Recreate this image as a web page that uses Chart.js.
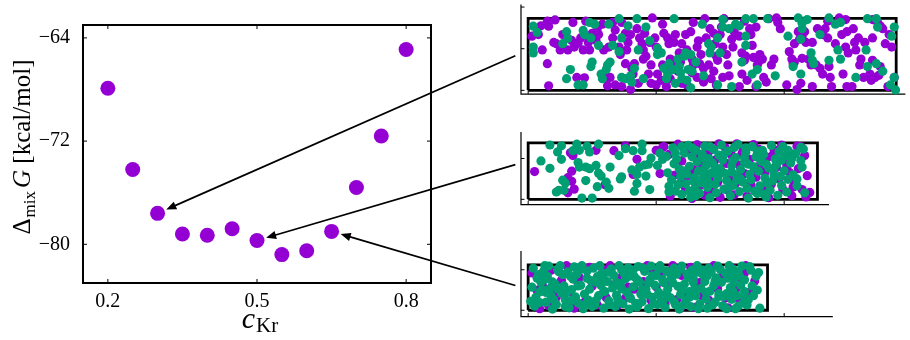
<!DOCTYPE html>
<html><head><meta charset="utf-8">
<script src="https://cdn.jsdelivr.net/npm/chart.js@4/dist/chart.umd.min.js"></script>
<style>
html,body{margin:0;padding:0;background:#fff;}
#wrap{position:relative;width:910px;height:340px;overflow:hidden;background:#fff;}
canvas{position:absolute;}
</style></head><body>
<div id="wrap">
<canvas id="main" width="910" height="340" style="left:0;top:0"></canvas>
<canvas id="p1" width="405" height="105" style="left:505px;top:0px"></canvas>
<canvas id="p2" width="405" height="100" style="left:505px;top:120px"></canvas>
<canvas id="p3" width="405" height="100" style="left:505px;top:240px"></canvas>
</div>
<script>
// ---------- main chart data ----------
const cKr = [0.2,0.25,0.3,0.35,0.4,0.45,0.5,0.55,0.6,0.65,0.7,0.75,0.8];
const dG  = [-67.9,-74.2,-77.6,-79.2,-79.3,-78.8,-79.7,-80.8,-80.5,-79.0,-75.6,-71.6,-64.9];
const xTickVals = [0.2,0.5,0.8];
const yTickVals = [-64,-72,-80];

// ---------- snapshot panels (box size and particle positions) ----------
const boxL = [28.75,22.6,18.7];
const boxH = [17.3,13.8,11.2];
const panelTicksX = [0,10,20,30];
const panelTicksY = [[0,10,20],[0,10],[0,10]];
const arrowTarget = [2,6,9];            // which cKr point each panel belongs to
const arrowAnchor = [[-1.0,8.3],[-1.0,8.5],[-1.0,6.1]];

const p1Purple = [0.3,13.0,1.0,15.5,1.5,16.6,1.6,15.4,2.1,16.9,0.8,13.4,1.1,9.7,1.5,6.4,1.6,1.1,2.0,11.5,
2.5,9.7,2.7,13.4,3.4,12.0,3.5,16.3,3.6,10.4,3.9,11.3,3.8,3.1,3.1,9.7,2.2,11.2,
4.4,3.0,4.5,16.6,4.7,11.5,5.0,13.7,5.3,12.0,5.5,13.4,5.8,15.9,5.9,9.7,6.1,3.1,6.2,1.1,4.1,12.6,4.8,9.7,5.4,14.8,4.3,9.7,
6.6,12.6,6.8,14.5,6.3,10.4,7.1,10.4,7.2,8.6,7.6,13.7,7.7,9.7,7.8,11.5,6.4,3.1,6.8,1.3,7.3,0.9,8.0,0.2,7.6,6.4,8.1,5.3,8.0,13.4,6.6,16.3,7.3,16.3,
8.5,14.8,8.7,12.6,8.9,11.2,9.0,9.7,9.1,13.7,9.2,8.2,9.5,11.5,9.6,6.1,9.7,17.4,9.9,12.6,10.0,10.4,8.3,6.4,8.6,1.7,9.0,7.5,10.1,3.9,10.0,1.3,9.6,1.7,9.4,3.9,8.2,3.9,
10.5,15.9,10.6,13.7,10.9,12.6,11.0,11.2,11.1,7.5,11.3,6.1,11.4,11.5,11.5,13.4,11.7,4.6,11.8,9.0,11.9,6.8,10.4,2.4,10.8,0.9,11.1,2.8,12.0,1.7,10.5,6.1,10.9,4.6,12.0,11.2,
12.3,13.4,12.7,14.1,12.8,7.5,12.9,6.1,13.2,10.4,13.3,11.9,13.4,6.4,13.5,8.6,13.7,5.3,13.8,17.2,13.9,12.6,14.1,6.1,12.4,1.3,12.8,4.2,13.2,3.1,13.7,2.0,12.9,16.3,14.2,14.8,12.4,9.7,
14.5,13.7,14.6,11.2,14.7,8.2,14.8,7.2,15.0,13.4,15.1,15.2,15.2,10.4,15.3,17.2,15.5,8.6,15.6,6.1,15.7,3.5,15.9,12.3,16.0,10.4,16.1,14.1,14.5,4.6,14.7,1.3,15.2,3.1,14.3,2.8,
16.5,13.0,16.7,9.0,16.9,7.2,17.0,8.2,17.3,14.8,17.4,13.4,17.5,10.8,17.6,7.9,17.8,15.2,17.9,6.1,18.0,6.8,18.1,8.6,18.3,7.5,16.7,3.9,17.1,2.4,16.5,0.9,17.8,0.9,18.4,3.1,16.9,16.6,
18.8,17.2,19.2,7.5,19.5,16.3,19.7,14.8,19.4,17.4,20.2,1.3,19.0,6.1,18.6,2.0,
20.4,9.3,20.6,7.5,20.7,6.4,20.8,11.2,21.1,14.1,21.2,12.3,21.6,14.1,21.7,11.5,21.9,7.5,22.1,6.1,22.2,11.5,20.8,6.8,21.3,1.7,21.0,0.2,22.2,0.9,21.4,7.7,21.4,12.9,
22.6,14.8,23.0,13.4,23.2,14.8,23.4,12.6,22.5,6.1,22.8,5.3,23.5,5.7,23.6,3.1,23.7,0.9,24.0,11.2,24.3,17.4,23.4,16.6,23.0,3.9,
24.5,13.4,24.8,10.4,24.9,14.1,25.0,9.0,25.4,14.8,25.5,11.5,25.6,9.7,25.8,12.6,25.9,6.1,24.6,3.9,24.9,0.9,25.3,0.9,26.0,7.5,26.2,3.1,26.3,11.5,24.8,17.0,
26.7,3.9,26.8,2.4,26.9,17.0,27.3,16.3,27.5,15.5,27.7,14.8,27.1,3.1,27.4,3.6,27.9,11.2,28.2,13.4,28.4,10.4,27.5,5.7,28.1,0.9,26.9,12.6,28.6,3.1,26.9,7.2];

const p1Green = [0.4,15.4,0.7,13.9,0.4,10.4,0.4,9.0,
3.0,14.1,2.7,11.2,3.1,12.5,3.0,2.8,3.3,5.0,3.9,1.3,
4.3,1.3,4.4,13.4,4.3,14.4,4.8,16.3,5.2,15.9,4.9,12.6,5.0,6.8,4.9,5.7,5.7,3.9,5.8,2.8,5.5,10.8,
6.2,6.1,6.1,5.0,6.4,6.8,6.6,10.8,6.3,15.9,7.1,17.2,7.3,12.6,7.3,3.1,7.6,2.8,7.8,15.5,7.1,9.3,8.0,3.5,
8.5,17.2,8.6,9.7,9.2,15.2,9.5,11.9,10.1,10.1,10.1,8.6,9.0,2.8,8.1,2.0,8.3,5.3,
10.4,9.0,10.6,5.3,10.9,3.9,11.0,6.4,11.4,17.2,11.7,7.5,11.8,5.7,11.9,4.2,11.5,1.7,12.2,8.2,12.0,2.8,10.8,2.8,11.3,5.0,
12.3,9.0,12.7,8.6,12.5,5.0,12.8,4.6,12.4,2.4,12.7,0.6,13.6,15.9,13.7,3.5,14.1,11.2,14.2,9.0,13.1,6.8,
14.3,10.4,14.8,12.6,15.0,9.0,14.8,1.3,15.2,17.0,15.7,14.8,15.9,0.9,16.2,15.9,15.2,15.2,
17.0,17.2,17.6,17.2,16.5,15.5,17.0,13.0,17.0,10.8,17.9,5.0,17.5,3.9,17.9,1.3,16.7,6.8,
18.7,17.2,19.3,3.5,20.3,13.0,
21.1,17.4,21.8,17.0,21.4,16.1,21.4,14.8,21.3,12.3,20.7,5.7,21.3,3.9,22.1,9.0,22.2,7.2,
22.8,13.4,23.5,17.4,24.0,15.9,24.4,16.3,24.2,9.7,24.4,7.5,23.5,7.2,22.3,6.4,
26.4,9.7,26.5,17.2,25.6,3.1,
27.2,17.2,27.3,15.2,28.6,15.2,28.4,13.0,27.2,6.4,26.5,5.7,27.7,4.6,28.6,3.1,28.3,1.3,28.7,0.1];

const p2Purple = [0.5,6.8,3.3,11.4,3.5,10.7,3.4,6.9,3.1,5.3,3.4,4.4,3.6,2.5,3.1,1.6,6.7,11.9,7.6,13.1,8.5,9.8,8.2,6.1,10.3,6.3,10.5,12.7,10.0,12.0,5.3,12.0,6.0,3.6,
10.6,12.9,11.0,11.0,11.1,0.8,11.4,5.9,11.7,13.5,12.0,9.4,12.3,2.6,12.1,4.9,12.6,11.9,12.9,7.3,12.8,0.2,13.2,13.4,13.4,3.3,13.5,8.6,13.9,6.1,13.8,1.0,
14.1,11.6,14.4,2.0,14.6,9.6,14.9,13.6,14.8,4.1,15.1,6.9,15.0,0.5,15.4,12.6,15.5,8.8,15.7,5.3,15.9,10.8,16.1,1.1,16.3,13.6,16.2,3.9,16.5,8.4,16.7,11.2,
16.9,6.3,17.1,0.8,17.3,9.8,17.4,3.6,17.6,13.4,17.8,5.4,18.0,12.3,18.1,8.3,18.3,2.8,18.5,6.6,18.7,10.3,18.8,0.4,19.0,3.7,19.2,12.2,19.4,7.8,19.6,5.0,
19.8,13.3,19.9,2.4,20.1,9.3,20.4,6.6,20.5,11.2,20.6,0.9,20.8,4.1,21.0,13.0,21.1,7.5,21.4,2.4,21.6,10.7,21.8,5.8,21.7,0.6,22.0,1.7,21.3,12.9,20.7,3.0,
12.5,5.8,13.0,10.5,14.3,4.9,15.6,2.2,16.8,12.5,17.9,7.2,19.1,10.8,20.2,8.0];

const p2Green = [1.7,13.3,2.6,13.1,3.8,13.5,4.6,13.0,5.5,13.5,2.3,11.6,1.0,9.4,2.6,9.8,1.7,7.6,3.5,11.9,4.0,12.0,4.8,11.6,3.9,9.0,4.0,7.9,4.5,7.9,4.8,7.5,5.3,8.3,5.5,6.4,5.7,5.7,
2.7,4.7,2.9,4.0,2.4,2.2,2.8,2.2,2.2,1.8,4.2,0.3,5.0,0.3,4.5,4.6,5.4,3.1,6.1,4.2,6.3,2.7,6.4,7.9,7.1,10.7,7.6,12.4,8.2,11.9,7.3,5.5,7.2,5.0,8.1,7.2,8.5,6.1,8.3,2.0,8.5,3.9,
8.9,11.9,8.9,13.5,8.7,7.9,9.1,8.4,9.4,8.6,9.2,5.7,9.5,2.4,9.6,10.1,10.1,8.3,10.3,11.3,10.5,9.8,10.8,10.5,
10.9,6.5,11.2,4.8,11.0,3.2,11.5,2.0,11.3,12.6,11.6,9.9,11.8,7.4,11.4,8.7,11.9,5.6,12.0,1.2,12.2,11.3,12.3,3.8,12.5,13.2,12.6,8.1,12.4,6.2,12.8,10.4,12.9,4.5,12.7,0.5,
13.0,2.6,13.1,12.0,13.3,6.9,13.2,9.2,13.5,4.0,13.6,11.1,13.4,1.5,13.8,13.0,13.9,8.3,13.7,5.4,14.0,2.9,14.1,10.0,14.3,6.4,14.2,0.4,14.5,12.2,14.6,3.7,14.4,8.9,14.8,5.2,
14.9,10.8,14.7,1.6,15.0,7.5,15.1,13.3,15.3,2.5,15.2,9.6,15.5,4.6,15.6,11.8,15.4,6.3,15.8,0.9,15.9,8.2,16.0,3.4,16.1,12.7,16.3,5.8,16.2,10.2,16.5,1.9,16.6,7.3,16.4,13.4,
16.8,4.2,16.9,9.0,17.0,11.5,17.1,2.7,17.3,6.1,17.2,0.3,17.5,12.9,17.6,8.0,17.4,4.8,17.8,10.4,17.9,1.4,18.0,6.9,18.1,3.3,18.3,12.0,18.2,9.3,18.5,5.2,18.6,0.6,18.4,11.0,
18.8,7.7,18.9,2.2,19.0,13.2,19.1,4.5,19.3,9.9,19.2,6.0,19.5,1.0,19.6,11.7,19.4,8.5,19.8,3.4,19.9,12.9,20.0,7.0,20.1,10.6,20.3,4.9,20.2,1.8,20.5,8.9,20.7,6.0,20.9,11.2,
21.0,3.3,21.3,9.5,21.5,12.3,21.6,1.6,21.3,12.7,21.4,7.9,
12.0,12.9,12.1,7.0,13.0,5.3,13.6,10.2,14.0,4.6,14.6,7.8,15.3,11.0,15.7,3.0,16.0,9.5,16.6,5.0,17.0,12.6,17.7,2.0,18.0,10.9,18.7,4.0,19.2,7.4,19.7,5.6,20.3,12.0,11.7,3.6,
12.6,2.0,14.2,12.9,15.9,6.7,17.2,8.6,18.4,1.3,19.8,9.6,11.0,1.8,11.5,11.3,12.8,12.6,13.1,0.9,13.7,7.2,14.9,6.1,16.3,4.7,16.9,10.2,17.9,11.8,18.6,8.6,20.6,10.0,21.0,5.0];

const p3Purple = [0.3,9.2,0.7,4.9,0.9,0.4,1.1,6.2,1.6,1.1,1.8,9.9,2.2,3.2,2.6,7.4,3.0,11.0,3.3,4.6,3.6,0.5,4.0,8.1,4.4,2.0,4.8,10.6,5.0,5.9,5.4,1.3,5.7,8.9,
6.1,3.1,6.4,11.0,6.7,6.3,7.0,1.2,7.3,8.2,7.6,3.0,8.0,10.1,8.3,5.2,8.6,1.4,9.0,7.1,9.3,11.0,9.6,2.5,10.0,5.8,10.4,9.1,10.7,1.6,11.0,6.5,11.3,11.0,11.6,2.6,
12.0,8.6,12.4,4.1,12.7,10.6,13.0,0.7,13.4,6.8,13.8,9.1,14.1,2.5,14.5,11.0,14.8,5.3,15.2,8.6,15.6,0.6,15.9,10.5,16.2,5.1,16.5,2.6,16.9,9.2,17.3,4.4,17.0,11.0,17.7,7.2,
1.9,4.9,3.9,6.7,5.9,10.0,7.8,5.7,9.8,9.6,11.9,0.5,13.6,3.5,15.4,3.0,16.4,7.0];

const p3Green = [0.3,5.7,0.6,3.2,0.8,8.8,0.5,1.0,1.0,6.9,0.4,10.4,0.9,4.5,
1.2,9.6,1.4,2.0,1.3,7.6,1.7,5.4,1.6,10.9,1.9,0.3,1.8,3.6,1.5,8.4,
2.1,6.5,2.3,10.1,2.2,1.4,2.6,4.2,2.7,8.8,2.5,11.0,2.9,2.6,2.8,6.0,
3.1,9.5,3.2,0.6,3.4,5.1,3.5,7.7,3.7,3.3,3.6,10.7,3.9,1.8,3.8,8.9,
4.1,6.2,4.2,11.0,4.4,4.0,4.3,0.4,4.6,9.7,4.7,2.5,4.9,7.3,4.8,5.2,
5.1,10.4,5.2,1.3,5.4,8.3,5.5,3.6,5.7,6.1,5.6,11.0,5.9,0.5,5.8,9.2,
6.0,4.6,6.2,7.1,6.3,2.3,6.5,10.2,6.6,5.5,6.8,0.9,6.7,8.6,6.9,3.7,
7.1,11.0,7.2,6.6,7.4,1.6,7.5,9.1,7.7,4.5,7.6,7.8,7.9,0.3,7.8,10.5,
8.0,2.9,8.2,5.8,8.3,8.3,8.5,0.8,8.6,10.8,8.8,4.0,8.7,6.9,8.9,2.1,
9.1,9.6,9.2,5.1,9.4,0.4,9.5,7.5,9.7,3.2,9.6,10.9,9.9,6.2,9.8,1.6,
10.0,8.6,10.2,4.4,10.3,11.0,10.5,2.3,10.6,6.8,10.8,9.7,10.7,0.7,10.9,5.2,
11.1,3.1,11.2,7.9,11.4,10.4,11.5,1.4,11.7,5.9,11.6,8.9,11.9,3.9,11.8,0.3,
12.0,10.9,12.2,6.4,12.3,2.4,12.5,8.1,12.6,4.6,12.8,9.9,12.7,0.9,12.9,6.9,
13.1,3.6,13.2,11.0,13.4,1.6,13.5,5.4,13.7,8.6,13.6,10.0,13.9,2.8,13.8,7.1,
14.0,0.5,14.2,4.7,14.3,9.5,14.5,6.1,14.6,2.0,14.8,10.9,14.7,8.0,14.9,3.4,
15.1,6.9,15.2,1.1,15.4,9.2,15.5,4.1,15.7,11.0,15.6,7.9,15.9,2.7,15.8,5.6,
16.0,10.1,16.2,0.4,16.3,3.6,16.5,8.5,16.6,6.2,16.8,1.8,16.7,10.9,16.9,4.6,
17.1,1.3,17.2,2.6,17.4,9.9,17.6,3.6,17.5,6.0,17.3,10.8,17.8,8.4,18.0,9.3,17.9,5.0,18.1,0.5,
0.2,2.2,0.7,7.9,0.9,1.9,1.1,5.1,1.3,11.0,1.9,7.0,1.4,4.4,2.0,2.6,2.4,9.5,2.3,5.3,2.9,0.9,3.0,4.4,3.3,8.4,3.4,2.5,3.9,6.0,4.0,9.9,4.5,1.6,4.6,7.9,
5.0,0.9,5.3,6.9,5.3,2.4,5.9,4.6,5.9,7.7,6.3,9.4,6.4,1.4,6.9,6.8,7.0,2.8,7.3,10.0,7.3,5.3,7.9,3.4,7.9,8.4,8.2,9.9,8.4,1.7,8.5,7.6,8.9,5.0,9.0,10.4,
9.3,3.9,9.4,6.8,9.7,8.5,10.1,1.4,10.2,10.2,10.3,3.4,10.5,7.6,10.8,4.0,11.0,9.3,11.3,6.8,11.4,2.2,11.9,10.2,12.0,4.9,12.2,1.4,12.4,9.0,12.6,3.2,12.9,7.8,
13.0,5.3,13.3,9.4,13.3,0.4,13.9,4.4,14.0,8.5,14.1,10.4,14.4,1.3,14.6,7.2,14.9,4.1,15.0,10.1,15.3,3.4,15.5,0.4,15.9,8.6,16.0,4.7,16.1,6.9,16.4,1.0,16.4,9.5,16.9,3.4,16.9,7.5];

const panelPurple = [p1Purple,p2Purple,p3Purple];
const panelGreen  = [p1Green,p2Green,p3Green];

// ---------- styles / layout ----------
const PURPLE = '#9400d3', GREEN = '#009e73';
const SERIF = '"Liberation Serif", "Times New Roman", serif';
const PARTICLE_R = 4.6;
const panelLayout = [
  {id:'p1', xmin:-1.45, xmax:29.47, ymin:-2.41, ymax:20.59, spineX:-0.56, spineY:-0.88, spineTop:null, spineRight:null},
  {id:'p2', xmin:-1.45, xmax:29.47, ymin:-3.93, ymax:18.29, spineX:-0.56, spineY:-1.27, spineTop:16.5, spineRight:23.5},
  {id:'p3', xmin:-1.45, xmax:29.47, ymin:-6.21, ymax:16.21, spineX:-0.56, spineY:-1.57, spineTop:14.6, spineRight:23.8}
];

function toPts(a){const r=[];for(let i=0;i<a.length;i+=2)r.push({x:a[i],y:a[i+1]});return r;}

const panels = panelLayout.map((L,k)=>{
  const boxPts = [{x:0,y:0},{x:boxL[k],y:0},{x:boxL[k],y:boxH[k]},{x:0,y:boxH[k]},{x:0,y:0}];
  const axesPlugin = {
    id:'panelAxes'+k,
    beforeDatasetsDraw(chart){
      const {ctx, chartArea:a, scales:{x,y}} = chart;
      const sx = x.getPixelForValue(L.spineX), sy = y.getPixelForValue(L.spineY);
      const top = L.spineTop==null ? a.top : y.getPixelForValue(L.spineTop);
      const right = L.spineRight==null ? a.right : x.getPixelForValue(L.spineRight);
      ctx.save();
      ctx.strokeStyle='#000'; ctx.lineWidth=1.2;
      ctx.beginPath(); ctx.moveTo(sx, top); ctx.lineTo(sx, sy); ctx.lineTo(right, sy); ctx.stroke();
      ctx.lineWidth=1;
      panelTicksX.forEach(v=>{const px=x.getPixelForValue(v); if(px<=right){ctx.beginPath();ctx.moveTo(px,sy);ctx.lineTo(px,sy-3.5);ctx.stroke();}});
      panelTicksY[k].forEach(v=>{const py=y.getPixelForValue(v); if(py>=top-0.5){ctx.beginPath();ctx.moveTo(sx,py);ctx.lineTo(sx+3.5,py);ctx.stroke();}});
      ctx.restore();
    }
  };
  return new Chart(document.getElementById(L.id), {
    type:'scatter',
    data:{datasets:[
      {data:boxPts, showLine:true, borderColor:'#000', borderWidth:2.8, pointRadius:0, fill:false, tension:0, order:3},
      {data:toPts(panelPurple[k]), backgroundColor:PURPLE, borderWidth:0, pointRadius:PARTICLE_R, pointHoverRadius:PARTICLE_R, order:2},
      {data:toPts(panelGreen[k]), backgroundColor:GREEN, borderWidth:0, pointRadius:PARTICLE_R, pointHoverRadius:PARTICLE_R, order:1}
    ]},
    options:{
      responsive:false, animation:false, events:[], devicePixelRatio:1,
      layout:{padding:0},
      plugins:{legend:{display:false}, tooltip:{enabled:false}},
      scales:{
        x:{type:'linear', display:false, min:L.xmin, max:L.xmax},
        y:{type:'linear', display:false, min:L.ymin, max:L.ymax}
      }
    },
    plugins:[axesPlugin]
  });
});

// ---------- main chart ----------
const mainPlugin = {
  id:'mainFrame',
  afterDraw(chart){
    const {ctx, chartArea:a, scales:{x,y}} = chart;
    ctx.save();
    ctx.strokeStyle='#000'; ctx.lineWidth=1;
    xTickVals.forEach(v=>{const px=x.getPixelForValue(v);
      ctx.beginPath();ctx.moveTo(px,a.bottom);ctx.lineTo(px,a.bottom-4);ctx.stroke();
      ctx.beginPath();ctx.moveTo(px,a.top);ctx.lineTo(px,a.top+4);ctx.stroke();});
    yTickVals.forEach(v=>{const py=y.getPixelForValue(v);
      ctx.beginPath();ctx.moveTo(a.left,py);ctx.lineTo(a.left+4,py);ctx.stroke();
      ctx.beginPath();ctx.moveTo(a.right,py);ctx.lineTo(a.right-4,py);ctx.stroke();});
    ctx.lineWidth=2;
    ctx.strokeRect(a.left,a.top,a.right-a.left,a.bottom-a.top);

    // x title  c_Kr
    ctx.fillStyle='#000'; ctx.textBaseline='alphabetic'; ctx.textAlign='left';
    const f1='italic 30px '+SERIF, f2='21px '+SERIF;
    ctx.font=f1; const wc=ctx.measureText('c').width;
    ctx.font=f2; const wk=ctx.measureText('Kr').width;
    const cx=(a.left+a.right)/2+3, base=a.bottom+45;
    const x0=cx-(wc+wk+1)/2;
    ctx.font=f1; ctx.fillText('c',x0,base);
    ctx.font=f2; ctx.fillText('Kr',x0+wc+1,base+4);

    // y title  Δ_mix G [kcal/mol]
    ctx.save();
    ctx.translate(a.left-53,(a.top+a.bottom)/2-7);
    ctx.rotate(-Math.PI/2);
    const parts=[['\u0394','25px '+SERIF,0,0],['mix','17px '+SERIF,5,1],['G','italic 25px '+SERIF,0,3],[' [kcal/mol]','25px '+SERIF,0,0]];
    let tot=0; parts.forEach(p=>{ctx.font=p[1]; p.w=ctx.measureText(p[0]).width; tot+=p.w+p[3];});
    let xx=-tot/2;
    parts.forEach(p=>{xx+=p[3]; ctx.font=p[1]; ctx.fillText(p[0],xx,p[2]); xx+=p.w;});
    ctx.restore();

    // arrows from snapshots to points
    ctx.fillStyle='#000'; ctx.strokeStyle='#000'; ctx.lineWidth=1.7;
    arrowTarget.forEach((ti,k)=>{
      const pc=panels[k], cv=pc.canvas;
      const sx=cv.offsetLeft+pc.scales.x.getPixelForValue(arrowAnchor[k][0]);
      const sy=cv.offsetTop+pc.scales.y.getPixelForValue(arrowAnchor[k][1]);
      const px=x.getPixelForValue(cKr[ti]), py=y.getPixelForValue(dG[ti]);
      const dx=sx-px, dy=sy-py, d=Math.hypot(dx,dy), ux=dx/d, uy=dy/d;
      const gap=9.5, hl=10, hw=4.2;
      const tx=px+ux*gap, ty=py+uy*gap, bx=tx+ux*hl, by=ty+uy*hl;
      ctx.beginPath(); ctx.moveTo(sx,sy); ctx.lineTo(bx-ux*1,by-uy*1); ctx.stroke();
      ctx.beginPath(); ctx.moveTo(tx,ty); ctx.lineTo(bx-uy*hw,by+ux*hw); ctx.lineTo(bx+uy*hw,by-ux*hw); ctx.closePath(); ctx.fill();
    });
    ctx.restore();
  }
};

new Chart(document.getElementById('main'), {
  type:'scatter',
  data:{datasets:[{data:cKr.map((c,i)=>({x:c,y:dG[i]})), backgroundColor:PURPLE, borderWidth:0, pointRadius:7.5, pointHoverRadius:7.5}]},
  options:{
    responsive:false, animation:false, events:[], devicePixelRatio:1,
    layout:{padding:{left:0, top:23, right:479, bottom:0}},
    plugins:{legend:{display:false}, tooltip:{enabled:false}},
    scales:{
      x:{type:'linear', min:0.15, max:0.85,
         afterBuildTicks:s=>{s.ticks=xTickVals.map(v=>({value:v}));},
         afterFit:s=>{s.height=57;},
         grid:{display:false, drawTicks:false}, border:{display:false},
         ticks:{color:'#000', padding:7, font:{family:SERIF, size:20}, callback:v=>Number(v).toFixed(1)}},
      y:{type:'linear', min:-83, max:-63,
         afterBuildTicks:s=>{s.ticks=yTickVals.map(v=>({value:v}));},
         afterFit:s=>{s.width=83;},
         grid:{display:false, drawTicks:false}, border:{display:false},
         ticks:{color:'#000', padding:13, font:{family:SERIF, size:20}, callback:v=>(v<0?'\u2212':'')+Math.abs(v)}}
    }
  },
  plugins:[mainPlugin]
});
</script>
</body></html>
